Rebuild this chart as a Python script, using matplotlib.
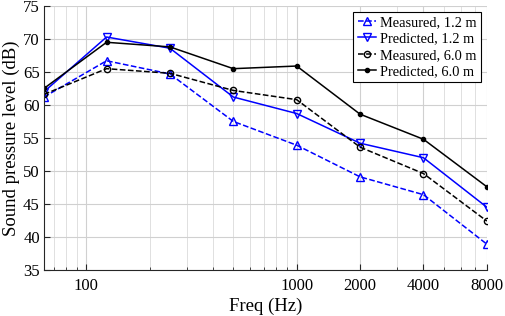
import matplotlib
matplotlib.use("Agg")
import matplotlib.pyplot as plt
from matplotlib.ticker import FixedLocator, NullFormatter, LogLocator

freqs = [63, 125, 250, 500, 1000, 2000, 4000, 8000]
meas_12 = [61.2, 66.7, 64.7, 57.5, 53.9, 49.1, 46.4, 38.9]
pred_12 = [62.0, 70.3, 68.6, 61.2, 58.7, 54.2, 52.0, 44.5]
meas_60 = [61.6, 65.5, 64.8, 62.2, 60.8, 53.6, 49.6, 42.4]
pred_60 = [62.5, 69.5, 68.8, 65.5, 65.9, 58.6, 54.8, 47.6]
xticks = [100, 1000, 2000, 4000, 8000]
yticks = [35, 40, 45, 50, 55, 60, 65, 70, 75]

plt.rcParams['font.family'] = ['Liberation Serif', 'DejaVu Serif']
plt.rcParams['font.size'] = 12

fig = plt.figure(figsize=(5.05, 3.16), dpi=100)
ax = fig.add_axes([0.087, 0.146, 0.877, 0.835])

ax.plot(freqs, meas_12, '--', color='#0000ff', lw=1.1, marker='^', ms=5.5,
        mfc='none', mec='#0000ff', mew=1.0, label='Measured, 1.2 m')
ax.plot(freqs, pred_12, '-', color='#0000ff', lw=1.1, marker='v', ms=5.5,
        mfc='none', mec='#0000ff', mew=1.0, label='Predicted, 1.2 m')
ax.plot(freqs, meas_60, '--', color='black', lw=1.1, marker='o', ms=4.5,
        mfc='none', mec='black', mew=1.0, label='Measured, 6.0 m')
ax.plot(freqs, pred_60, '-', color='black', lw=1.1, marker='o', ms=3,
        mfc='black', mec='black', label='Predicted, 6.0 m')

ax.set_xscale('log')
ax.set_xlim(63, 8000)
ax.set_ylim(35, 75)
ax.xaxis.set_major_locator(FixedLocator(xticks))
ax.set_xticklabels([str(t) for t in xticks])
ax.xaxis.set_minor_locator(LogLocator(base=10, subs=range(2, 10)))
ax.xaxis.set_minor_formatter(NullFormatter())
ax.set_yticks(yticks)

ax.grid(True, which='major', color='#d0d0d0', lw=0.8)
ax.grid(True, which='minor', axis='x', color='#e0e0e0', lw=0.7)
ax.set_axisbelow(True)

for s in ['top', 'right']:
    ax.spines[s].set_visible(False)
for s in ['left', 'bottom']:
    ax.spines[s].set_color('#262626')
    ax.spines[s].set_linewidth(0.8)
ax.tick_params(which='both', direction='in', colors='#262626', labelcolor='black',
               labelsize=12)
ax.tick_params(which='major', length=4)
ax.tick_params(which='minor', length=2)
ax.tick_params(axis='x', which='major', pad=5.5)
ax.tick_params(axis='y', which='major', pad=3)

ax.set_xlabel('Freq (Hz)', fontsize=13.5, labelpad=3)
ax.set_ylabel('Sound pressure level (dB)', fontsize=13.5, labelpad=2)

leg = ax.legend(loc='upper right', fontsize=10.4, frameon=True, fancybox=False,
                edgecolor='black', framealpha=1, handlelength=1.3,
                handletextpad=0.25, borderpad=0.3, labelspacing=0.22,
                borderaxespad=0.4)
leg.get_frame().set_linewidth(0.8)

fig.savefig('out.png', dpi=100)
